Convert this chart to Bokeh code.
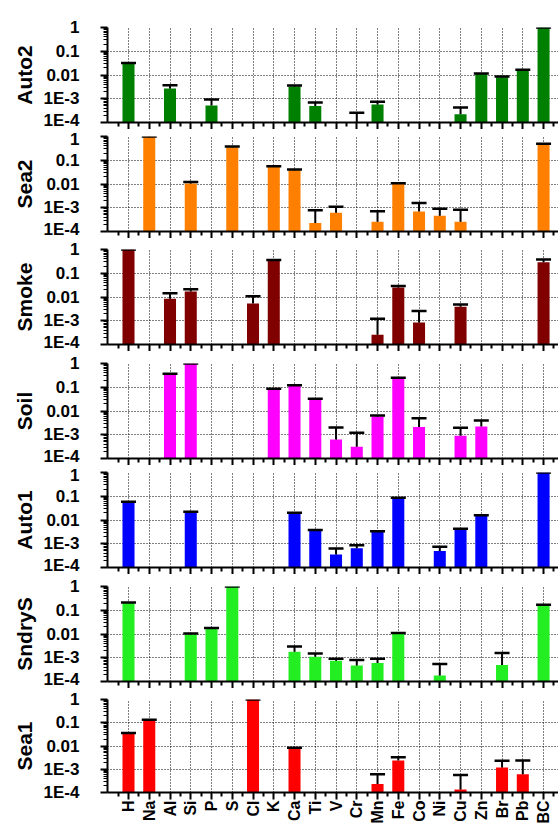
import math
from bokeh.plotting import figure
from bokeh.layouts import column
from bokeh.models import (Range1d, FixedTicker, CustomJSTickFormatter, ColumnDataSource,
                          Whisker, TeeHead)
from bokeh.embed import file_html
from bokeh.resources import INLINE

elements = ["H", "Na", "Al", "Si", "P", "S", "Cl", "K", "Ca", "Ti", "V", "Cr",
            "Mn", "Fe", "Co", "Ni", "Cu", "Zn", "Br", "Pb", "BC"]
ytick_values = [1e-4, 1e-3, 1e-2, 1e-1, 1.0]
ytick_labels = ["1E-4", "1E-3", "0.01", "0.1", "1"]
N = None

# profile value and upper end of the error bar, per element
auto2_val = [0.030, N, 0.0027, N, 5.2e-4, N, N, N, 0.0033, 5.0e-4, N, 5e-5,
             5.7e-4, N, N, N, 2.2e-4, 0.011, 0.0081, 0.0155, 1.0]
auto2_up = [0.032, N, 0.0037, N, 9.3e-4, N, N, N, 0.0036, 7.0e-4, N, 2.6e-4,
            7.4e-4, N, N, N, 4.3e-4, 0.0117, 0.0086, 0.0165, 1.0]

sea2_val = [N, 0.97, N, 0.0105, N, 0.355, N, 0.053, 0.038, 2.3e-4, 6.1e-4, N,
            2.6e-4, 0.0102, 6.9e-4, 4.6e-4, 2.6e-4, N, N, N, 0.46]
sea2_up = [N, 1.0, N, 0.012, N, 0.38, N, 0.056, 0.041, 7.9e-4, 1.1e-3, N,
           7.1e-4, 0.0108, 1.6e-3, 9.1e-4, 8.2e-4, N, N, N, 0.49]

smoke_val = [1.0, N, 0.0084, 0.017, N, N, 0.0053, 0.34, N, N, N, N,
             2.6e-4, 0.025, 8.5e-4, N, 0.0039, N, N, N, 0.29]
smoke_up = [1.0, N, 0.0145, 0.021, N, N, 0.0108, 0.36, N, N, N, N,
            1.2e-3, 0.029, 2.6e-3, N, 0.0048, N, N, N, 0.38]

soil_val = [N, N, 0.355, 1.0, N, N, N, 0.083, 0.115, 0.031, 6.3e-4, 3.1e-4,
            0.0059, 0.24, 0.0021, N, 9.0e-4, 0.0022, N, N, N]
soil_up = [N, N, 0.37, 1.0, N, N, N, 0.087, 0.12, 0.033, 2.0e-3, 1.2e-3,
           0.0065, 0.25, 0.005, N, 1.95e-3, 0.004, N, N, N]

auto1_val = [0.056, N, N, 0.021, N, N, N, N, 0.019, 0.0036, 3.5e-4, 6.5e-4,
             0.0032, 0.081, N, 4.9e-4, 0.0041, 0.0155, N, N, 1.0]
auto1_up = [0.058, N, N, 0.022, N, N, N, N, 0.020, 0.0038, 6.3e-4, 8.7e-4,
            0.0034, 0.086, N, 7.5e-4, 0.0043, 0.016, N, N, 1.0]

sndrys_val = [0.2, N, N, 0.0095, 0.017, 1.0, N, N, 0.0018, 0.0011, 7.5e-4, 4.7e-4,
              6.0e-4, 0.0105, N, 1.8e-4, N, N, 5.0e-4, N, 0.16]
sndrys_up = [0.21, N, N, 0.0105, 0.018, 1.0, N, N, 0.003, 0.0015, 9.0e-4, 8.0e-4,
             9.0e-4, 0.011, N, 5.5e-4, N, N, 1.6e-3, N, 0.17]

sea1_val = [0.034, 0.126, N, N, N, N, 1.0, N, 0.0079, N, N, N,
            2.3e-4, 0.0024, N, N, 1.35e-4, N, 0.0012, 6.1e-4, N]
sea1_up = [0.036, 0.135, N, N, N, N, 1.0, N, 0.0085, N, N, N,
           6.1e-4, 0.0033, N, N, 5.7e-4, N, 0.0023, 0.0024, N]

panels = [
    ("Auto2", auto2_val, auto2_up, "#008000"),
    ("Sea2", sea2_val, sea2_up, "#FF8000"),
    ("Smoke", smoke_val, smoke_up, "#800000"),
    ("Soil", soil_val, soil_up, "#FF00FF"),
    ("Auto1", auto1_val, auto1_up, "#0000FF"),
    ("SndryS", sndrys_val, sndrys_up, "#22EE22"),
    ("Sea1", sea1_val, sea1_up, "#FF0000"),
]

top_borders = [27, 7, 11, 12, 7, 12, 11]
bottom_borders = [7, 7, 7, 7, 7, 7, 32]
FRAME_H = 95
FONT = "Liberation Sans"

y_minor = [k * 10.0 ** e for e in range(-4, 0) for k in range(2, 10)]
x_major = list(range(len(elements)))
x_minor = [i + 0.5 for i in range(-1, len(elements))]

ylab_fmt = CustomJSTickFormatter(args=dict(vals=ytick_values, labs=ytick_labels), code="""
for (let i = 0; i < vals.length; i++) {
  if (Math.abs(Math.log10(tick) - Math.log10(vals[i])) < 1e-6) return labs[i];
}
return '';
""")
xlab_empty = CustomJSTickFormatter(code="return '';")
xlab_fmt = CustomJSTickFormatter(args=dict(labels=elements),
                                 code="const s = labels[Math.round(tick)]; return s == null ? '' : s;")

figs = []
for idx, (name, vals, ups, color) in enumerate(panels):
    tb, bb = top_borders[idx], bottom_borders[idx]
    last = idx == len(panels) - 1
    p = figure(width=558, height=tb + FRAME_H + bb, y_axis_type="log",
               x_range=Range1d(-1.012, 20.72), y_range=Range1d(1e-4, 1.0),
               output_backend="svg", toolbar_location=None,
               min_border_left=107, min_border_right=0,
               min_border_top=tb, min_border_bottom=bb)
    p.outline_line_color = None
    p.background_fill_color = "white"
    p.border_fill_color = "white"

    xs = [i for i, v in enumerate(vals) if v is not None]
    src = ColumnDataSource(dict(x=xs, top=[vals[i] for i in xs], upper=[ups[i] for i in xs]))
    p.vbar(x="x", top="top", bottom=1e-6, width=0.58, source=src,
           fill_color=color, line_color=None)
    w = Whisker(source=src, base="x", upper="upper", lower="top", dimension="height",
                line_color="black", line_width=2, level="annotation",
                upper_head=TeeHead(size=15, line_width=2.5, line_color="black"),
                lower_head=None)
    p.add_layout(w)

    # grids
    p.xgrid.ticker = FixedTicker(ticks=x_major)
    p.ygrid.ticker = FixedTicker(ticks=[1e-3, 1e-2, 1e-1])
    for g in (p.xgrid, p.ygrid):
        g.grid_line_color = "black"
        g.grid_line_dash = "1 2"
        g.grid_line_width = 1

    # x axis
    xa = p.xaxis[0]
    xa.ticker = FixedTicker(ticks=x_major, minor_ticks=x_minor)
    if last:
        xa.formatter = xlab_fmt
        xa.major_label_orientation = math.pi / 2
        xa.major_label_text_font = FONT
        xa.major_label_text_font_style = "bold"
        xa.major_label_text_font_size = "16px"
        xa.major_label_text_color = "black"
        xa.major_label_standoff = 1
    else:
        xa.formatter = xlab_empty
        xa.major_label_text_font_size = "0px"
        xa.major_label_standoff = 0
    xa.major_tick_out = 7
    xa.major_tick_in = 0
    xa.minor_tick_out = 4
    xa.minor_tick_in = 0
    xa.major_tick_line_width = 2
    xa.minor_tick_line_width = 2
    xa.axis_line_width = 2
    xa.axis_line_color = "black"
    xa.major_tick_line_color = "black"
    xa.minor_tick_line_color = "black"

    # y axis
    ya = p.yaxis[0]
    ya.ticker = FixedTicker(ticks=ytick_values, minor_ticks=y_minor)
    ya.formatter = ylab_fmt
    ya.major_tick_out = 7
    ya.major_tick_in = 0
    ya.minor_tick_out = 4
    ya.minor_tick_in = 0
    ya.major_tick_line_width = 2
    ya.minor_tick_line_width = 1
    ya.axis_line_width = 2
    ya.axis_line_color = "black"
    ya.major_tick_line_color = "black"
    ya.minor_tick_line_color = "black"
    ya.major_label_text_font = FONT
    ya.major_label_text_font_style = "bold"
    ya.major_label_text_font_size = "17px"
    ya.major_label_text_color = "black"
    ya.major_label_standoff = 21
    ya.axis_label = name
    ya.axis_label_text_font = FONT
    ya.axis_label_text_font_style = "bold"
    ya.axis_label_text_font_size = "21px"
    ya.axis_label_text_color = "black"
    ya.axis_label_standoff = 5

    figs.append(p)

layout = column(*figs, spacing=0)
open("out.html", "w").write(file_html(layout, INLINE))
